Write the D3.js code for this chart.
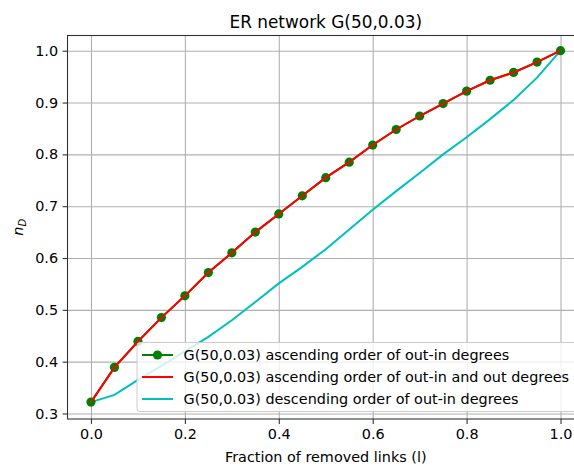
<!DOCTYPE html>
<html>
<head>
    <meta charset="utf-8">
    <title>ER network</title>
    <script src="https://cdn.jsdelivr.net/npm/d3@7"></script>
    <style>
        body { margin: 0; background: #fff; }
        text { font-family: "DejaVu Sans", sans-serif; fill: #000; }
    </style>
</head>
<body>
<script>
    // fraction of removed links
    var fractions = [0, 0.05, 0.1, 0.15, 0.2, 0.25, 0.3, 0.35, 0.4, 0.45, 0.5,
                     0.55, 0.6, 0.65, 0.7, 0.75, 0.8, 0.85, 0.9, 0.95, 1.0];
    var ascOutIn = [0.322, 0.389, 0.439, 0.485, 0.527, 0.572, 0.610, 0.650, 0.685, 0.720, 0.755,
                    0.785, 0.818, 0.848, 0.874, 0.898, 0.922, 0.943, 0.958, 0.978, 1.0];
    var ascOutInOut = [0.322, 0.389, 0.439, 0.485, 0.527, 0.572, 0.610, 0.650, 0.685, 0.720, 0.755,
                       0.785, 0.818, 0.848, 0.874, 0.898, 0.922, 0.943, 0.958, 0.978, 1.0];
    var descOutIn = [0.322, 0.336, 0.365, 0.392, 0.420, 0.448, 0.480, 0.515, 0.551, 0.583, 0.617,
                     0.655, 0.693, 0.729, 0.764, 0.800, 0.833, 0.868, 0.905, 0.948, 1.0];
    var xTicks = [0, 0.2, 0.4, 0.6, 0.8, 1.0];
    var yTicks = [0.3, 0.4, 0.5, 0.6, 0.7, 0.8, 0.9, 1.0];
    var legendLabels = ["G(50,0.03) ascending order of out-in degrees",
                        "G(50,0.03) ascending order of out-in and out degrees",
                        "G(50,0.03) descending order of out-in degrees"];

    var width = 574, height = 466;
    var plotL = 67.5, plotR = 584, plotT = 35.5, plotB = 419;
    var fs = "14.4px";

    var x = d3.scaleLinear().domain([-0.05, 1.05]).range([plotL, plotR]);
    var y = d3.scaleLinear().domain([0.3, 1.0]).range([413.5, 50.7]);

    var svg = d3.select("body").append("svg")
        .attr("width", width)
        .attr("height", height);

    // grid
    svg.append("g")
        .attr("transform", "translate(0," + plotB + ")")
        .call(d3.axisBottom(x).tickValues(xTicks).tickSize(-(plotB - plotT)).tickFormat(""))
        .call(function(g) {
            g.select(".domain").remove();
            g.selectAll("line").attr("stroke", "#b0b0b0").attr("stroke-width", 1.1);
        });
    svg.append("g")
        .attr("transform", "translate(" + plotL + ",0)")
        .call(d3.axisLeft(y).tickValues(yTicks).tickSize(-(plotR - plotL)).tickFormat(""))
        .call(function(g) {
            g.select(".domain").remove();
            g.selectAll("line").attr("stroke", "#b0b0b0").attr("stroke-width", 1.1);
        });

    // lines
    var line = d3.line()
        .x(function(d, i) { return x(fractions[i]); })
        .y(function(d) { return y(d); });

    svg.append("path").datum(descOutIn)
        .attr("d", line).attr("fill", "none")
        .attr("stroke", "#00bfbf").attr("stroke-width", 2);

    svg.append("path").datum(ascOutIn)
        .attr("d", line).attr("fill", "none")
        .attr("stroke", "#008000").attr("stroke-width", 2);

    svg.selectAll("circle.pt")
        .data(ascOutIn)
        .enter()
        .append("circle")
        .attr("class", "pt")
        .attr("cx", function(d, i) { return x(fractions[i]); })
        .attr("cy", function(d) { return y(d); })
        .attr("r", 4.6)
        .attr("fill", "#008000");

    svg.append("path").datum(ascOutInOut)
        .attr("d", line).attr("fill", "none")
        .attr("stroke", "#ff0000").attr("stroke-width", 2);

    // frame
    svg.append("rect")
        .attr("x", plotL).attr("y", plotT)
        .attr("width", plotR - plotL).attr("height", plotB - plotT)
        .attr("fill", "none").attr("stroke", "#333").attr("stroke-width", 1.1);

    // axes
    var xAxis = svg.append("g")
        .attr("transform", "translate(0," + plotB + ")")
        .call(d3.axisBottom(x).tickValues(xTicks).tickSize(4.9).tickPadding(4.5).tickFormat(d3.format(".1f")));
    var yAxis = svg.append("g")
        .attr("transform", "translate(" + plotL + ",0)")
        .call(d3.axisLeft(y).tickValues(yTicks).tickSize(4.9).tickPadding(4.5).tickFormat(d3.format(".1f")));
    [xAxis, yAxis].forEach(function(g) {
        g.select(".domain").remove();
        g.selectAll("line").attr("stroke", "#333").attr("stroke-width", 1.1);
        g.selectAll("text").attr("font-size", fs).attr("font-family", "DejaVu Sans").attr("fill", "#000");
    });

    // titles
    svg.append("text")
        .attr("x", (plotL + plotR) / 2).attr("y", 27.5)
        .attr("text-anchor", "middle").attr("font-size", "16.9px")
        .text("ER network G(50,0.03)");

    svg.append("text")
        .attr("x", (plotL + plotR) / 2).attr("y", 462)
        .attr("text-anchor", "middle").attr("font-size", fs)
        .text("Fraction of removed links (l)");

    var ylab = svg.append("text")
        .attr("transform", "translate(23," + (plotT + plotB) / 2 + ") rotate(-90)")
        .attr("text-anchor", "middle").attr("font-size", fs)
        .attr("font-style", "italic");
    ylab.append("tspan").text("n");
    ylab.append("tspan").attr("font-size", "10px").attr("dy", 2.5).text("D");

    // legend
    var lg = svg.append("g").attr("transform", "translate(137,342.5)");
    lg.append("rect")
        .attr("width", 460).attr("height", 69).attr("rx", 3)
        .attr("fill", "#fff").attr("fill-opacity", 0.8)
        .attr("stroke", "#cccccc").attr("stroke-width", 1);
    var colors = ["#008000", "#ff0000", "#00bfbf"];
    var rows = lg.selectAll("g.row")
        .data(legendLabels)
        .enter()
        .append("g")
        .attr("class", "row")
        .attr("transform", function(d, i) { return "translate(0," + (12.5 + i * 22) + ")"; });
    rows.append("line")
        .attr("x1", 5).attr("x2", 36)
        .attr("stroke", function(d, i) { return colors[i]; })
        .attr("stroke-width", 2);
    rows.filter(function(d, i) { return i === 0; })
        .append("circle").attr("cx", 20.5).attr("r", 4.6).attr("fill", "#008000");
    rows.append("text")
        .attr("x", 46.5).attr("dy", "0.35em")
        .attr("font-size", fs)
        .text(function(d) { return d; });
</script>
</body>
</html>
